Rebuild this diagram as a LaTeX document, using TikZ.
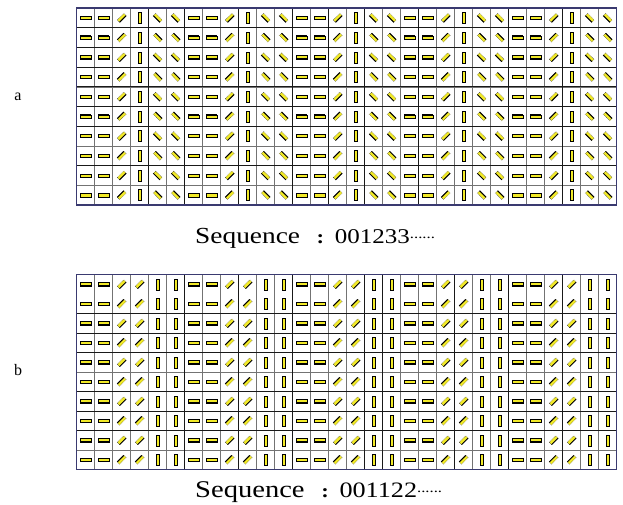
\documentclass[tikz,border=0pt]{standalone}
\usepackage{fontspec}
\setmainfont{Liberation Serif}
\definecolor{rodyellow}{RGB}{242,234,40}
\definecolor{gridblue}{RGB}{58,58,112}
\tikzset{
  thinline/.style={draw=black!55, line width=0.6pt},
  darkline/.style={draw=black!90, line width=0.9pt},
  frameline/.style={draw=gridblue, line width=1.1pt},
  rodbar/.style={fill=rodyellow, draw=black, line width=0.4pt},
  roddot/.style={fill=rodyellow, draw=black!80, line width=0.5pt, densely dotted},
  rodedge/.style={draw=black, line width=1pt},
  caption/.style={inner sep=0pt, anchor=base west},
  letter/.style={font=\fontsize{16}{16}\selectfont},
}
% x, y, angle, edge side, style, half length
\newcommand{\rod}[6]{%
  \begin{scope}[shift={(#1,#2)}, rotate=#3]
    \path[#5] (-#6,-1.6) rectangle (#6,1.6);
    \draw[rodedge] (-#6,#4*1.6) -- (#6,#4*1.6);
  \end{scope}}
% x0, y0, cell height, angle list
\newcommand{\rodgrid}[4]{%
  \foreach \c in {0,...,29} {
    \pgfmathtruncatemacro\k{mod(\c,6)}
    \pgfmathsetmacro\ang{{#4}[\k]}
    \pgfmathtruncatemacro\diag{abs(\ang)==45}
    \foreach \r in {0,...,9} {
      \pgfmathsetmacro\side{ifthenelse(mod(\r,2)==0,1,-1)}
      \ifnum\diag=1
        \rod{#1+18*\c+9}{#2+#3*\r+#3/2}{\ang}{\side}{roddot}{4.6}
      \else
        \rod{#1+18*\c+9}{#2+#3*\r+#3/2}{\ang}{\side}{rodbar}{5.5}
      \fi
    }
  }}
\newcommand{\seqtext}[3]{\scalebox{1.19}[1]{\fontsize{#1}{#1}\selectfont Sequence\hspace{14pt}{\fontsize{19}{19}\selectfont\textbf{:}}\hspace{9pt}{\fontsize{#2}{#2}\selectfont #3}\raisebox{5pt}{\fontsize{14}{14}\selectfont ......}}}
\begin{document}
\begin{tikzpicture}[x=1pt, y=-1pt]
  \useasboundingbox (0,0) rectangle (623,504);

  % grid a
  \foreach \c in {1,...,29} \draw[thinline] (76.7+18*\c,8) -- (76.7+18*\c,205);
  \foreach \r in {1,...,9} \draw[thinline] (76.7,8+19.7*\r) -- (616.7,8+19.7*\r);
  \foreach \c in {4,6,9,12,14,16,19,24,27} \draw[darkline] (76.7+18*\c,8) -- (76.7+18*\c,205);
  \foreach \r in {1,2,3,4,5,6,8} \draw[darkline] (76.7,8+19.7*\r) -- (616.7,8+19.7*\r);
  \draw[frameline] (76.7,8) rectangle (616.7,205);
  \rodgrid{76.7}{8}{19.7}{0,0,45,90,-45,-45}
  \node[letter] (labela) at (18,97) {a};
  \node[caption] (seqa) at (195,243) {\seqtext{23}{21}{001233}};

  % grid b
  \foreach \c in {1,...,29} \draw[thinline] (76.7+18*\c,274.5) -- (76.7+18*\c,469.5);
  \foreach \r in {2,...,9} \draw[thinline] (76.7,274.5+19.5*\r) -- (616.7,274.5+19.5*\r);
  \foreach \c in {6,9,12,16,17,21,24,27} \draw[darkline] (76.7+18*\c,274.5) -- (76.7+18*\c,469.5);
  \foreach \r in {2,3,4,6,7,8} \draw[darkline] (76.7,274.5+19.5*\r) -- (616.7,274.5+19.5*\r);
  \draw[frameline] (76.7,274.5) rectangle (616.7,469.5);
  \rodgrid{76.7}{274.5}{19.5}{0,0,45,45,90,90}
  \node[letter] (labelb) at (18,370) {b};
  \node[caption] (seqb) at (195,497) {\seqtext{24}{22}{001122}};
\end{tikzpicture}
\end{document}
